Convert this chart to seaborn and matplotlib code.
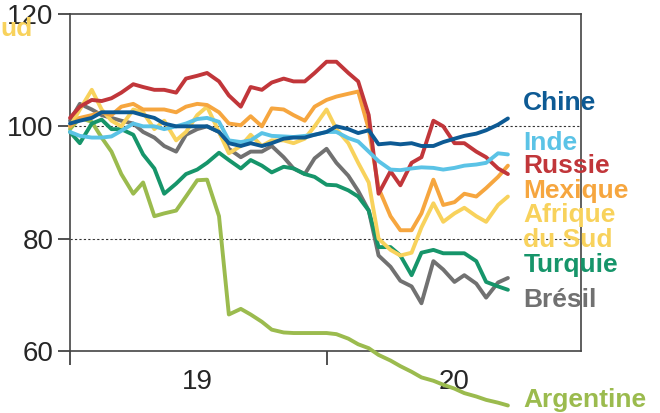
import matplotlib
matplotlib.use("Agg")
import matplotlib.pyplot as plt
import matplotlib.dates as mdates
import numpy as np
import pandas as pd
import seaborn as sns

# semi-monthly observations, Jan 2019 -> Sep 2020 (index, base 100)
dates = pd.date_range("2019-01-01", periods=42, freq="SMS")

chine = [100.5, 101, 101.5, 102.5, 102.5, 102.5, 102.5, 102, 101.5, 100.5, 100,
         100, 100, 100, 99, 97, 96.5, 97, 96.5, 97, 97.8,
         98, 98, 98.5, 99, 100, 99.5, 98.8, 99.3, 96.8, 97,
         96.8, 97, 96.5, 96.5, 97.2, 97.8, 98.3, 98.7, 99.3, 100.3, 101.4]
inde = [99, 98.3, 98, 98, 98.2, 99.2, 100.5, 100, 100, 99.5, 100,
        100.5, 101.3, 101.5, 100.8, 97.5, 97.2, 97.5, 98.8, 98.3, 98.2,
        98.1, 98.3, 98.5, 99, 99, 97.9, 97.3, 95.5, 93.8, 92.3,
        92.2, 92.5, 92.7, 92.6, 92.3, 92.6, 93, 93.2, 93.5, 95.2, 95]
russie = [101.5, 103.5, 104.7, 104.5, 105, 106, 107.5, 107, 106.5, 106.5, 106,
          108.5, 109, 109.5, 108, 105.5, 103.5, 107, 106.5, 107.8, 108.5,
          108, 108, 109.5, 111.5, 111.5, 109.5, 108, 102, 88, 92,
          89.5, 93.5, 94.5, 101, 100, 97, 97, 95.5, 94.5, 92.5, 91.5]
mexique = [100, 101.5, 102, 102.5, 102, 103.5, 104, 103, 103, 103, 102.5,
           103.5, 104, 103.8, 102.5, 100.5, 100.2, 101.8, 100, 103.2, 103,
           102, 101, 103.5, 104.7, 105.3, 105.8, 106.2, 99.5, 89, 84,
           81.5, 81.5, 84.5, 90.5, 86, 86.5, 88, 87.5, 89, 91, 93]
afrique_sud = [100, 103, 106.5, 103, 101, 100, 103, 102.5, 99.5, 101, 97.5,
               99, 102, 103.5, 99, 95.2, 96.5, 98.5, 96.5, 97.5, 97.5,
               97, 97.8, 100, 103, 99.5, 97, 93.5, 90, 80, 78,
               77, 77.5, 82, 86.3, 83, 84.5, 85.5, 84, 83, 86, 87.5]
turquie = [99, 97, 100.5, 101.2, 99.5, 99.5, 98.5, 95, 92.5, 88, 89.8,
           91.5, 92.3, 93.5, 95.3, 94, 92.5, 94, 93, 91.8, 92.8,
           92.5, 91.5, 91, 89.6, 89.5, 88.6, 87.5, 85, 78.5, 78.5,
           77, 73.5, 77.5, 78, 77.4, 77.4, 77.4, 76, 72.3, 71.5, 70.9]
bresil = [101, 104, 103, 102, 101.5, 101, 100.5, 99, 98, 96.5, 95.5,
          98.5, 99.5, 100, 99, 96, 94.5, 95.5, 95.5, 96.5, 94.5,
          92.5, 91.5, 94.3, 96, 93.5, 91.2, 88.5, 85, 77, 75,
          72.5, 71.5, 68.5, 76, 74.5, 72.3, 73.5, 72, 69.5, 72.2, 73]
argentine = [99.5, 101.5, 100.8, 98, 95.5, 91.5, 88, 90, 84, 84.5, 85,
             87.5, 90.4, 90.5, 84, 66.5, 67.5, 66.5, 65.2, 63.8, 63.3,
             63.2, 63.2, 63.2, 63.2, 63, 62.2, 61.2, 60.5, 59.3, 58.3,
             57.3, 56.3, 55.3, 54.7, 54, 53.3, 52.5, 51.9, 51.3, 50.8, 50.3]

series = {
    "Argentine": argentine,
    "Brésil": bresil,
    "Turquie": turquie,
    "Afrique du Sud": afrique_sud,
    "Mexique": mexique,
    "Russie": russie,
    "Inde": inde,
    "Chine": chine,
}
colors = {
    "Chine": "#0d5a94",
    "Inde": "#5bc3e6",
    "Russie": "#c1363a",
    "Mexique": "#f6a63f",
    "Afrique du Sud": "#f8d25c",
    "Turquie": "#16956a",
    "Brésil": "#717171",
    "Argentine": "#9bbb4e",
}

df = pd.concat(
    [pd.DataFrame({"date": dates, "valeur": v, "pays": k}) for k, v in series.items()],
    ignore_index=True,
)

sns.set_style("ticks")
plt.rcParams["font.family"] = ["Liberation Sans", "DejaVu Sans"]

fig = plt.figure(figsize=(6.6, 4.13), dpi=100)
ax = fig.add_axes([70 / 660, 62 / 413, 511 / 660, 337 / 413])

# 1. reference lines at 80 and 100
for yv in (80, 100):
    ax.axhline(yv, color="#333333", linestyle=(0, (2, 2)), linewidth=0.8, zorder=1)

# 2. currency lines
sns.lineplot(data=df, x="date", y="valeur", hue="pays", palette=colors,
             linewidth=2.8, legend=False, ax=ax, zorder=3)
for ln in ax.lines[2:]:
    ln.set_clip_on(False)
    ln.set_solid_joinstyle("round")

# 3. axes formatting
ax.set_ylim(60, 120)
ax.set_yticks([60, 80, 100, 120])
ax.set_xlim(pd.Timestamp("2019-01-01"), pd.Timestamp("2020-12-28"))
ax.xaxis.set_major_locator(mdates.YearLocator())
ax.xaxis.set_major_formatter(plt.NullFormatter())
ax.xaxis.set_minor_locator(mdates.MonthLocator(bymonth=7, bymonthday=1))
ax.xaxis.set_minor_formatter(mdates.DateFormatter("%y"))
ax.tick_params(axis="x", which="major", length=10, width=1.2, color="#333333")
ax.tick_params(axis="x", which="minor", length=0, pad=13, labelsize=20)
ax.tick_params(axis="y", length=9, width=1.2, color="#333333", pad=3, labelsize=20)
for lab in ax.get_yticklabels() + ax.get_xticklabels(which="minor"):
    lab.set_family(["Liberation Sans Narrow", "Liberation Sans"])
    lab.set_stretch("condensed")
ax.set_xlabel("")
ax.set_ylabel("")
for s in ax.spines.values():
    s.set_color("#444444")
    s.set_linewidth(1.2)

# 4. direct labels
labels = [
    ("Chine", "Chine", 0.715),
    ("Inde", "Inde", 0.596),
    ("Russie", "Russie", 0.528),
    ("Mexique", "Mexique", 0.454),
    ("Afrique du Sud", "Afrique", 0.383),
    ("Afrique du Sud", "du Sud", 0.309),
    ("Turquie", "Turquie", 0.233),
    ("Brésil", "Brésil", 0.131),
    ("Argentine", "Argentine", -0.166),
]
for key, txt, yf in labels:
    ax.text(0.887, yf, txt, transform=ax.transAxes, color=colors[key],
            fontsize=19, fontweight="bold", ha="left", va="baseline",
            clip_on=False, zorder=5)
fig.text(0.0, 0.913, "ud", color=colors["Afrique du Sud"], fontsize=19,
         fontweight="bold", ha="left", va="baseline")

fig.savefig("out.png", dpi=100)
